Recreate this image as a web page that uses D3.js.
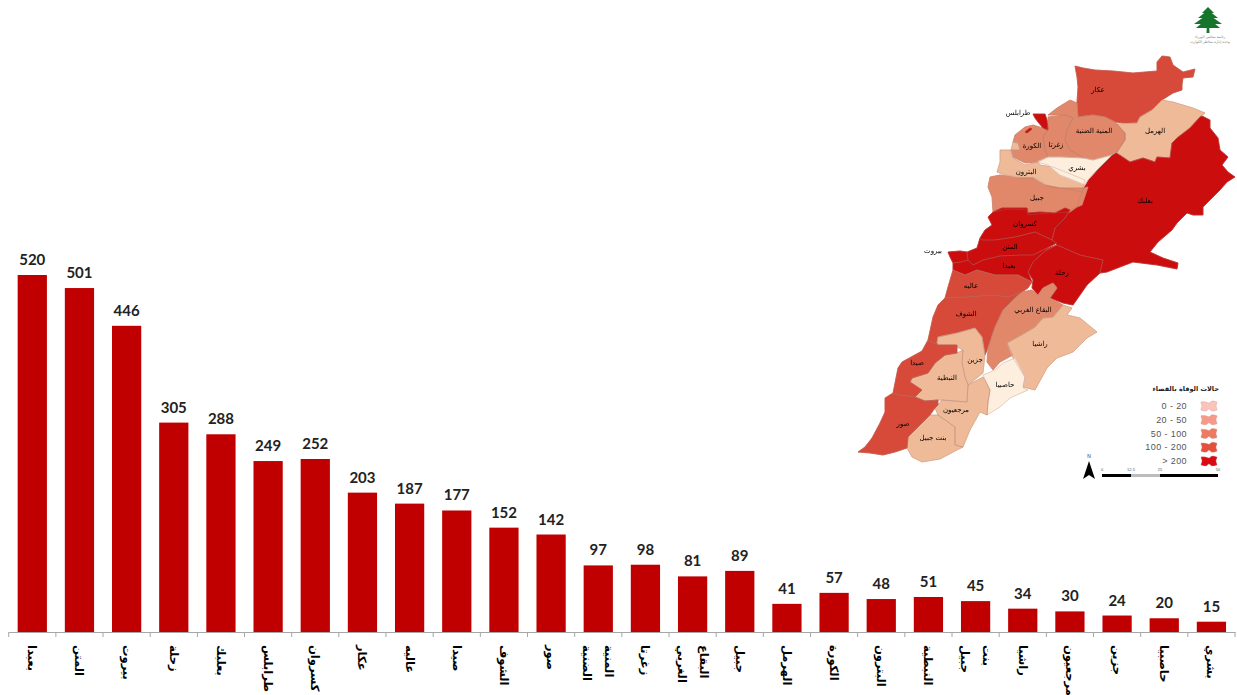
<!DOCTYPE html>
<html>
<head>
<meta charset="utf-8">
<script src="https://cdn.jsdelivr.net/npm/d3@7"></script>
<style>
  html, body { margin: 0; padding: 0; background: #fff; }
  svg { display: block; }
</style>
</head>
<body>
<svg id="chart" width="1237" height="695"></svg>
<script>
var categories = ["بعبدا","المتن","بيروت","زحلة","بعلبك","طرابلس","كسروان","عكار","عاليه","صيدا","الشوف","صور","المنية الضنية","زغرتا","البقاع الغربي","جبيل","الهرمل","الكورة","البترون","النبطية","بنت جبيل","راشيا","مرجعيون","جزين","حاصبيا","بشري"];
var deaths = [520,501,446,305,288,249,252,203,187,177,152,142,97,98,81,89,41,57,48,51,45,34,30,24,20,15];

var legendLabels = ["0 - 20","20 - 50","50 - 100","100 - 200","> 200"];
var legendColors = ["#fac4bb","#f59a88","#ef7a62","#e4503a","#da0a14"];
var classBreaks = [20.5,51.5,100,205];
var classColors = ["#fdeedd","#efba98","#e2886a","#d74a38","#cb0c0e"];
var scaleKm = [0,12.5,25,50];

// district outlines, in map grid units
var outlineAkkar = [[217,11],[225,13],[237,15],[255,16],[275,18],[299,16],[299,7],[304,1],[312,2],[315,10],[325,17],[337,14],[335,22],[325,23],[324,30],[324,35],[315,38],[304,45],[294,55],[282,62],[279,68],[265,68],[257,67],[247,62],[235,60],[220,62],[219,47],[220,32],[219,22]];
var outlineHermel = [[304,45],[315,47],[325,50],[335,53],[347,58],[342,62],[332,73],[319,83],[314,88],[312,103],[299,102],[297,107],[285,103],[272,107],[259,97],[267,85],[267,78],[259,69],[279,68],[282,62],[294,55]];
var outlineBaalbek = [[344,61],[352,65],[352,73],[360,83],[362,95],[370,102],[364,110],[370,117],[377,122],[369,127],[362,135],[355,142],[345,152],[345,160],[335,160],[329,158],[319,168],[314,175],[300,187],[292,197],[305,203],[320,208],[319,214],[299,210],[275,207],[262,212],[249,217],[242,218],[245,205],[222,200],[199,190],[194,185],[197,173],[207,163],[212,155],[219,152],[225,135],[230,125],[239,115],[257,97],[272,107],[285,103],[297,107],[299,102],[312,103],[314,88],[319,83],[332,73],[342,62]];
var outlineMinieh = [[190,60],[199,53],[212,45],[219,48],[220,62],[235,60],[247,62],[257,67],[267,78],[267,85],[259,97],[254,100],[235,105],[225,103],[212,95],[207,85],[209,75],[215,63],[207,60]];
var outlineZgharta = [[190,62],[207,60],[215,63],[209,75],[207,85],[212,95],[225,103],[202,102],[190,102],[187,95],[185,82],[190,73]];
var outlineKoura = [[167,72],[175,70],[185,73],[190,75],[185,82],[187,95],[190,102],[180,107],[167,108],[155,102],[153,95],[162,95],[160,88],[155,87],[157,80]];
var outlineBatroun = [[142,95],[152,95],[162,95],[160,88],[155,87],[153,95],[155,103],[167,110],[180,107],[182,110],[195,112],[210,118],[227,125],[224,137],[204,133],[192,132],[177,123],[165,123],[147,120],[139,117],[142,107]];
var outlineBsharri = [[190,102],[202,102],[225,103],[235,105],[254,100],[257,97],[239,115],[230,125],[227,130],[215,125],[202,120],[190,110],[179,107]];
var outlineJbeil = [[132,122],[142,120],[160,123],[175,123],[187,130],[202,133],[225,133],[230,132],[224,150],[219,152],[212,157],[192,158],[170,160],[169,155],[150,154],[135,157],[134,142],[130,132]];
var outlineKesrwan = [[144,153],[169,153],[170,158],[182,157],[197,158],[207,153],[212,155],[207,163],[197,173],[194,185],[177,177],[157,182],[137,185],[124,185],[122,183],[127,175],[134,170],[130,162],[135,157]];
var outlineMetn = [[124,185],[137,185],[157,182],[177,177],[194,185],[199,188],[185,195],[175,200],[162,200],[142,201],[125,205],[115,210],[110,205],[109,197],[119,193],[122,183]];
var outlineBeirut = [[90,197],[102,196],[109,197],[110,205],[103,207],[95,208],[92,202]];
var outlineBaabda = [[199,190],[187,196],[175,207],[170,217],[174,227],[160,220],[137,220],[119,215],[107,220],[95,215],[95,208],[103,207],[110,205],[115,210],[125,205],[142,201],[162,200],[175,200],[185,195]];
var outlineZahle = [[199,190],[222,200],[245,205],[242,218],[229,230],[215,250],[205,248],[192,243],[199,233],[195,228],[185,233],[180,240],[174,233],[175,225],[170,217],[175,207],[187,196]];
var outlineAley = [[95,215],[107,220],[119,215],[137,220],[160,220],[174,227],[170,233],[164,237],[150,242],[135,240],[109,242],[87,243],[90,232]];
var outlineChouf = [[87,243],[109,242],[135,240],[150,242],[164,237],[157,243],[145,255],[137,272],[130,293],[127,300],[124,282],[117,273],[99,278],[80,282],[79,288],[80,290],[70,285],[75,262],[80,250]];
var outlineWestBekaa = [[174,235],[180,240],[185,233],[195,228],[199,233],[192,243],[205,250],[195,262],[185,263],[177,272],[167,278],[149,288],[155,300],[142,307],[135,315],[129,307],[130,293],[137,272],[145,255],[157,243],[164,237]];
var outlineRashaya = [[205,250],[214,253],[209,260],[222,263],[239,277],[229,283],[215,297],[199,303],[189,313],[177,335],[165,332],[167,322],[155,303],[149,288],[167,278],[177,272],[185,263],[195,262]];
var outlineHasbaya = [[157,303],[167,322],[165,333],[170,335],[152,343],[142,352],[129,360],[130,347],[132,335],[125,320],[137,315],[145,308]];
var outlineMarjayoun = [[125,322],[110,330],[109,347],[84,345],[80,350],[77,353],[80,360],[97,372],[97,390],[105,392],[112,375],[122,357],[129,360],[130,347],[132,335]];
var outlineBintJbeil = [[80,360],[97,372],[97,390],[105,392],[99,395],[82,404],[64,407],[54,402],[49,393],[50,382],[59,373],[72,360]];
var outlineNabatieh = [[99,298],[105,295],[104,308],[107,322],[110,330],[109,347],[84,345],[80,345],[67,346],[57,342],[64,335],[52,327],[54,323],[70,318],[77,308],[87,300]];
var outlineJezzine = [[80,282],[99,278],[117,273],[124,282],[127,300],[125,318],[110,330],[107,322],[104,308],[105,295],[99,292],[85,292],[79,288]];
var outlineSaida = [[70,285],[80,290],[99,290],[99,298],[87,300],[77,308],[70,318],[54,323],[52,327],[64,335],[57,342],[42,340],[35,338],[37,328],[40,313],[44,307],[64,296]];
var outlineSour = [[27,343],[35,338],[42,340],[57,342],[67,346],[80,345],[80,350],[77,353],[72,360],[59,373],[50,382],[49,393],[37,397],[25,400],[12,398],[0,397],[7,392],[14,383],[22,368],[27,357]];
var outlineTripoli = [[175,59],[187,59],[189,65],[190,75],[185,73],[180,67],[177,63]];
var outlineTripoliIslet = [[167,77],[172,73],[174,74],[169,78]];

var mapOutlines = [
  ["عكار",outlineAkkar],["الهرمل",outlineHermel],["بعلبك",outlineBaalbek],["المنية الضنية",outlineMinieh],
  ["زغرتا",outlineZgharta],["الكورة",outlineKoura],["البترون",outlineBatroun],["بشري",outlineBsharri],
  ["جبيل",outlineJbeil],["كسروان",outlineKesrwan],["المتن",outlineMetn],["بيروت",outlineBeirut],
  ["بعبدا",outlineBaabda],["زحلة",outlineZahle],["عاليه",outlineAley],["الشوف",outlineChouf],
  ["البقاع الغربي",outlineWestBekaa],["راشيا",outlineRashaya],["حاصبيا",outlineHasbaya],["مرجعيون",outlineMarjayoun],
  ["بنت جبيل",outlineBintJbeil],["النبطية",outlineNabatieh],["جزين",outlineJezzine],["صيدا",outlineSaida],
  ["صور",outlineSour],["طرابلس",outlineTripoli],["طرابلس",outlineTripoliIslet]
];

// where each name sits on the map, same grid units
var mapLabelNames = ["عكار","طرابلس","الهرمل","المنية الضنية","زغرتا","الكورة","بشري","البترون","بعلبك","جبيل","كسروان","المتن","بيروت","بعبدا","زحلة","عاليه","الشوف","البقاع الغربي","راشيا","جزين","صيدا","النبطية","حاصبيا","مرجعيون","صور","بنت جبيل"];
var mapLabelSpots = [[240,35],[160,58],[297,76],[236,76],[198,90],[174,91],[219,113],[168,117],[287,146],[179,143],[167,169],[152,192],[75,196],[151,211],[204,218],[113,231],[108,259],[175,255],[182,289],[117,305],[59,308],[89,323],[147,330],[98,355],[45,369],[75,383]];

var swatchShape = [[-8,-4],[-3,-4],[0,-3],[3,-5],[8,-4],[7,0],[8,4],[3,5],[0,3],[-3,5],[-8,4],[-7,0]];
var cedarTiers = [[[0,-13],[6,-7],[-6,-7]],[[0,-10],[10,-2],[-10,-2]],[[0,-6],[14,4],[-14,4]],[[0,-2],[12,8],[-12,8]],[[-1.2,6],[1.2,6],[1.5,13],[-1.5,13]]];
var logoLines = ["رئاسة مجلس الوزراء","وحدة إدارة مخاطر الكوارث"];

var ARABIC = "'DejaVu Sans', sans-serif";
var LATIN = "'Liberation Sans', Arial, sans-serif";
var svg = d3.select("#chart");

var defs = svg.append("defs");
defs.append("filter").attr("id", "soft")
  .append("feGaussianBlur").attr("stdDeviation", 0.35);

// bars
var x = d3.scaleBand().domain(categories).range([8.7, 1235]).paddingInner(0.38).paddingOuter(0.19);
var y = d3.scaleLinear().domain([0, 520]).range([632, 275]);

svg.append("g").selectAll("rect")
  .data(categories)
  .enter().append("rect")
  .attr("x", function(d) { return x(d); })
  .attr("y", function(d, i) { return y(deaths[i]); })
  .attr("width", x.bandwidth())
  .attr("height", function(d, i) { return y(0) - y(deaths[i]); })
  .attr("fill", "#c00000");

svg.append("g").selectAll("text")
  .data(categories)
  .enter().append("text")
  .attr("x", function(d) { return x(d) + x.bandwidth() / 2; })
  .attr("y", function(d, i) { return y(deaths[i]) - 10; })
  .attr("text-anchor", "middle")
  .attr("font-family", "Lato, 'Open Sans', sans-serif")
  .attr("font-weight", 700)
  .attr("font-size", 15)
  .attr("fill", "#222")
  .text(function(d, i) { return deaths[i]; });

var axis = svg.append("g")
  .attr("transform", "translate(0," + y(0) + ")")
  .call(d3.axisBottom(x).tickSize(0).tickFormat(""));
axis.select(".domain").attr("stroke", "#a6a6a6").attr("stroke-width", 1);

var edges = categories.map(function(d) { return x(d) - x.step() * x.paddingInner() / 2; });
edges.push(x.range()[1]);
axis.append("g").selectAll("line")
  .data(edges)
  .enter().append("line")
  .attr("x1", function(d) { return d; })
  .attr("x2", function(d) { return d; })
  .attr("y1", 0).attr("y2", 5)
  .attr("stroke", "#a6a6a6");

// rotated names, two-word names go in two columns
axis.selectAll(".tick").each(function(d) {
  var words = d.split(" ");
  var tick = d3.select(this);
  tick.selectAll("text").remove();
  words.forEach(function(word, i) {
    var shift = words.length > 1 ? (i == 0 ? 11 : -11) : 0;
    tick.append("text")
      .attr("transform", "translate(" + shift + ",13) rotate(90)")
      .attr("dy", "0.35em")
      .attr("text-anchor", "start")
      .attr("font-family", ARABIC)
      .attr("font-weight", 700)
      .attr("font-size", 11.5)
      .attr("fill", "#000")
      .text(word);
  });
});

// map
var mapFeatures = mapOutlines.map(function(o) {
  var ring = o[1].concat([o[1][0]]);
  return { type: "Feature", properties: { name: o[0] }, geometry: { type: "Polygon", coordinates: [ring] } };
});
var projection = d3.geoIdentity().fitExtent([[858, 56], [1235, 462]], { type: "FeatureCollection", features: mapFeatures });
var mapPath = d3.geoPath(projection);
var mapColor = d3.scaleThreshold().domain(classBreaks).range(classColors);
var fillOf = function(d) { return mapColor(deaths[categories.indexOf(d.properties.name)]); };

var mapLayer = svg.append("g").attr("filter", "url(#soft)");
mapLayer.append("g").selectAll("path")
  .data(mapFeatures)
  .enter().append("path")
  .attr("d", mapPath)
  .attr("fill", fillOf)
  .attr("stroke", fillOf)
  .attr("stroke-width", 0.8)
  .attr("stroke-linejoin", "round");
mapLayer.append("g").selectAll("path")
  .data(mapFeatures)
  .enter().append("path")
  .attr("d", mapPath)
  .attr("fill", "none")
  .attr("stroke", "#a07a70")
  .attr("stroke-opacity", 0.55)
  .attr("stroke-width", 0.5)
  .attr("stroke-linejoin", "round");

mapLayer.append("g").selectAll("text")
  .data(mapLabelNames)
  .enter().append("text")
  .attr("x", function(d, i) { return projection(mapLabelSpots[i])[0]; })
  .attr("y", function(d, i) { return projection(mapLabelSpots[i])[1]; })
  .attr("dy", "0.35em")
  .attr("text-anchor", "middle")
  .attr("font-family", ARABIC)
  .attr("font-size", 7)
  .attr("fill", "#000")
  .text(function(d) { return d; });

// legend
svg.append("text")
  .attr("x", 1219).attr("y", 391)
  .attr("text-anchor", "end")
  .attr("font-family", ARABIC)
  .attr("font-weight", 700)
  .attr("font-size", 6.5)
  .attr("fill", "#222")
  .text("حالات الوفاة بالقضاء");

var legendY = d3.scalePoint().domain(legendLabels).range([406, 461]);
var swatchLine = d3.line().curve(d3.curveCardinalClosed.tension(0.4));

var legendRows = svg.append("g").selectAll("g")
  .data(legendLabels)
  .enter().append("g")
  .attr("transform", function(d) { return "translate(0," + legendY(d) + ")"; });
legendRows.append("text")
  .attr("x", 1187).attr("dy", "0.35em")
  .attr("text-anchor", "end")
  .attr("direction", "ltr")
  .attr("font-family", LATIN)
  .attr("font-size", 9)
  .attr("letter-spacing", 0.4)
  .attr("fill", "#555")
  .text(function(d) { return d; });
legendRows.append("path")
  .attr("transform", "translate(1209,0)")
  .attr("d", swatchLine(swatchShape))
  .attr("fill", function(d, i) { return legendColors[i]; })
  .attr("stroke", "#c9a0a0")
  .attr("stroke-width", 0.4);

// north arrow
var north = svg.append("g").attr("transform", "translate(1089,0)");
north.append("text").attr("y", 458).attr("text-anchor", "middle")
  .attr("font-family", LATIN).attr("font-size", 5).attr("fill", "#333").text("N");
north.append("path").attr("d", "M0,461L6,479L0,475L-6,479Z").attr("fill", "#000");

// scale bar
var km = d3.scaleLinear().domain([0, 50]).range([1102, 1218]);
svg.append("g").selectAll("rect")
  .data(d3.pairs(scaleKm))
  .enter().append("rect")
  .attr("x", function(d) { return km(d[0]); })
  .attr("y", 474)
  .attr("width", function(d) { return km(d[1]) - km(d[0]); })
  .attr("height", 3)
  .attr("fill", function(d, i) { return i == 1 ? "#bdbdbd" : "#000"; });
svg.append("g").selectAll("text")
  .data(scaleKm)
  .enter().append("text")
  .attr("x", function(d) { return km(d); })
  .attr("y", 471)
  .attr("text-anchor", "middle")
  .attr("font-family", LATIN)
  .attr("font-size", 4)
  .attr("fill", "#555")
  .text(function(d) { return d; });

// cedar logo
var logo = svg.append("g").attr("transform", "translate(1208,20)").attr("filter", "url(#soft)");
logo.selectAll("path")
  .data(cedarTiers)
  .enter().append("path")
  .attr("d", function(d) { return d3.line()(d) + "Z"; })
  .attr("fill", "#17752c");
svg.append("g").selectAll("text")
  .data(logoLines)
  .enter().append("text")
  .attr("x", 1210)
  .attr("y", function(d, i) { return 38 + i * 4.5; })
  .attr("text-anchor", "middle")
  .attr("font-family", ARABIC)
  .attr("font-size", 3.5)
  .attr("fill", "#777")
  .text(function(d) { return d; });
</script>
</body>
</html>
